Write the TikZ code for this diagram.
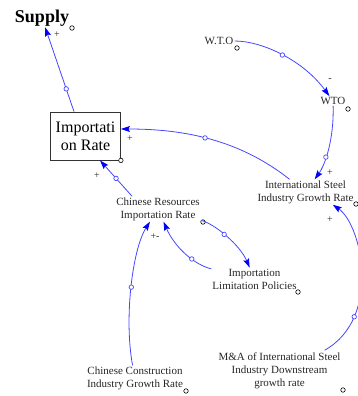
\documentclass[tikz,border=0pt]{standalone}
\usepackage{fontspec}
\setmainfont{Liberation Serif}
\usetikzlibrary{arrows.meta}
\definecolor{linkblue}{RGB}{70,70,255}
\definecolor{headblue}{RGB}{0,0,255}
\tikzset{
  var/.style={font=\fontsize{11bp}{13bp}\selectfont, align=center, inner sep=1bp, text=black!85},
  link/.style={draw=linkblue, line width=0.8bp, -{Stealth[length=9bp,width=6bp,inset=1.5bp,color=headblue]}},
  midc/.style={circle, draw=linkblue, fill=white, inner sep=0pt, minimum size=4.5bp, line width=0.7bp},
  varc/.style={circle, draw=black, fill=white, inner sep=0pt, minimum size=4.5bp, line width=0.6bp},
  sign/.style={font=\fontsize{10bp}{10bp}\selectfont, inner sep=0pt, text=black!85},
}
\begin{document}
\begin{tikzpicture}[x=1bp,y=-1bp]
\useasboundingbox (0,0) rectangle (358,396);
% variables
\node[inner sep=1bp, font=\fontsize{18bp}{20bp}\selectfont\bfseries] (supply) at (42,18) {Supply};
\node[draw=black!80, line width=0.8bp, minimum width=70bp, minimum height=48bp, inner sep=0pt,
      align=center, font=\fontsize{16bp}{18bp}\selectfont] (box) at (85.5,136) {Importati\\on Rate};
\node[var] (wto1) at (219,41) {W.T.O};
\node[var] (wto2) at (333,101) {WTO};
\node[var] (intl) at (305.5,192) {International Steel\\Industry Growth Rate};
\node[var] (res) at (158,209) {Chinese Resources\\Importation Rate};
\node[var] (lim) at (254.5,279) {Importation\\Limitation Policies};
\node[var] (cons) at (135,378) {Chinese Construction\\Industry Growth Rate};
\node[var] (mna) at (279.5,370.5) {M\&A of International Steel\\Industry Downstream\\growth rate};
% variable marker circles
\node[varc] (c1) at (72,28) {};
\node[varc] (c2) at (box.south east) {};
\node[varc] (c3) at (237,48) {};
\node[varc] (c4) at (348,109) {};
\node[varc] (c5) at (356,204) {};
\node[varc] (c6) at (203,222) {};
\node[varc] (c7) at (298,292) {};
\node[varc] (c8) at (186,391) {};
\node[varc] (c9) at (343,390) {};
% links
\draw[link] ([xshift=-11.5bp]box.north) -- node[midc,pos=.27](m1){} (supply);
\draw[link] (intl) .. controls (235,136) and (175,129) .. node[midc,pos=.5](m2){} ([yshift=7bp]box.east);
\draw[link] (wto1) .. controls (262,41) and (303,60) .. node[midc,pos=.5](m3){} (wto2);
\draw[link] (wto2) .. controls (334,140) and (325,165) .. node[midc,pos=.6](m4){} (intl);
\draw[link] ([xshift=-17bp,yshift=1bp]mna.north east) .. controls (382,318) and (362,225) .. node[midc,pos=.25](m5){} (intl.-25);
\draw[link] ([xshift=17bp]res.north west) -- node[midc,pos=.5](m6){} ([xshift=14.5bp]box.south);
\draw[link] (res) .. controls (215,224) and (240,245) .. node[midc,pos=.45](m7){} (lim);
\draw[link] (lim) .. controls (195,265) and (175,248) .. node[midc,pos=.38](m8){} (res);
\draw[link] (cons) .. controls (124,320) and (132,250) .. node[midc,pos=.5](m9){} (res);
% polarity signs
\node[sign] (s1) at (57,35) {+};
\node[sign] (s2) at (130,139) {+};
\node[sign] (s3) at (330,80) {-};
\node[sign] (s4) at (330,173) {+};
\node[sign] (s5) at (330,220) {+};
\node[sign] (s6) at (97,176) {+};
\node[sign] (s7) at (155,237) {+-};
\end{tikzpicture}
\end{document}
